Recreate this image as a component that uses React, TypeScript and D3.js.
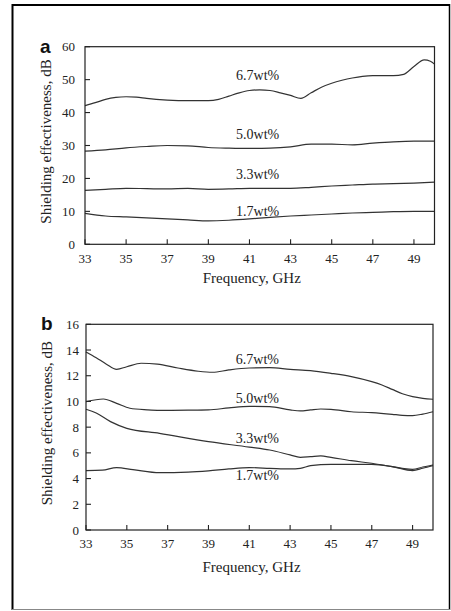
import React from "react";
import * as d3 from "d3";

// ---------- data ----------
const freqTicks = [33, 35, 37, 39, 41, 43, 45, 47, 49];
const yTicksA = [0, 10, 20, 30, 40, 50, 60];
const yTicksB = [0, 2, 4, 6, 8, 10, 12, 14, 16];

const seriesNames = ["6.7wt%", "5.0wt%", "3.3wt%", "1.7wt%"];

// panel a
const fA67 = [33, 33.5, 34, 34.5, 35, 35.5, 36, 37, 38, 39, 39.5, 40, 40.5, 41, 41.5, 42, 42.5, 43, 43.5, 44, 44.5, 45, 45.5, 46, 46.5, 47, 47.5, 48, 48.5, 49, 49.5, 49.8, 50];
const vA67 = [42.1, 43.0, 44.0, 44.6, 44.8, 44.7, 44.3, 43.8, 43.6, 43.6, 44.0, 45.0, 46.0, 46.7, 46.9, 46.7, 46.0, 45.2, 44.3, 46.0, 47.7, 48.9, 49.8, 50.5, 51.0, 51.2, 51.2, 51.2, 51.6, 54.0, 56.0, 55.6, 54.7];
const fA50 = [33, 34, 35, 36, 37, 38, 39, 40, 41, 42, 43, 44, 45, 46, 47, 48, 49, 50];
const vA50 = [28.3, 28.7, 29.3, 29.7, 30.0, 29.9, 29.4, 29.2, 29.1, 29.2, 29.6, 30.4, 30.4, 30.2, 30.7, 31.1, 31.3, 31.3];
const fA33 = [33, 34, 35, 36, 37, 38, 39, 40, 41, 42, 43, 44, 45, 46, 47, 48, 49, 50];
const vA33 = [16.4, 16.7, 17.0, 16.9, 16.8, 17.0, 16.7, 16.8, 17.0, 17.0, 17.0, 17.3, 17.7, 18.0, 18.3, 18.4, 18.6, 18.9];
const fA17 = [33, 34, 35, 36, 37, 38, 39, 40, 41, 42, 43, 44, 45, 46, 47, 48, 49, 50];
const vA17 = [9.4, 8.6, 8.3, 8.0, 7.7, 7.4, 7.1, 7.3, 7.7, 8.2, 8.6, 8.9, 9.2, 9.5, 9.7, 9.9, 10.0, 10.0];

// panel b
const fB67 = [33, 33.5, 34, 34.5, 35, 35.7, 36.5, 37.5, 38.5, 39.2, 40, 41, 42, 43, 44, 45, 46, 47, 47.5, 48, 48.5, 49, 49.5, 50];
const vB67 = [13.85, 13.4, 12.9, 12.5, 12.7, 12.97, 12.9, 12.6, 12.35, 12.27, 12.45, 12.6, 12.63, 12.5, 12.4, 12.19, 11.93, 11.54, 11.28, 10.94, 10.6, 10.37, 10.24, 10.17];
const fB50 = [33, 33.85, 34.5, 35.15, 36, 36.6, 38, 39, 40, 41, 42, 43, 43.5, 44, 44.5, 45, 46, 47, 48, 48.5, 49, 49.5, 50];
const vB50 = [9.98, 10.19, 9.85, 9.47, 9.35, 9.31, 9.32, 9.34, 9.5, 9.62, 9.6, 9.34, 9.26, 9.34, 9.41, 9.39, 9.2, 9.13, 9.0, 8.92, 8.9, 9.02, 9.2];
const fB33 = [33, 33.5, 34.2, 35, 36.6, 39, 41, 42, 43, 43.5, 44, 44.5, 45, 46, 47, 48, 48.5, 49, 49.5, 50];
const vB33 = [9.39, 9.1, 8.43, 7.91, 7.52, 6.87, 6.45, 6.22, 5.84, 5.65, 5.7, 5.76, 5.65, 5.39, 5.19, 4.93, 4.8, 4.72, 4.9, 5.06];
const fB17 = [33, 33.8, 34.5, 35.3, 36.6, 38, 39, 40, 41, 42, 43, 43.5, 44, 45, 46, 47, 48, 49, 49.5, 50];
const vB17 = [4.62, 4.65, 4.85, 4.7, 4.46, 4.5, 4.6, 4.75, 4.85, 4.8, 4.75, 4.8, 5.0, 5.11, 5.11, 5.11, 4.93, 4.62, 4.8, 5.0];

// label anchors (data coordinates: frequency, value)
const labelFreqA = [41.4, 41.4, 41.4, 41.4];
const labelValA = [49.9, 32.0, 19.7, 8.6];
const labelFreqB = [41.4, 41.4, 41.4, 41.4];
const labelValB = [12.89, 9.85, 6.79, 3.89];

const SERIF = "'Liberation Serif', 'Times New Roman', Times, serif";
const SANS = "'Liberation Sans', Arial, Helvetica, sans-serif";

type PanelProps = {
  letter: string;
  x0: number; x1: number; yTop: number; yBot: number;
  yMax: number; yTicks: number[];
  series: { f: number[]; v: number[] }[];
  labelF: number[]; labelV: number[];
  letterPos: [number, number];
  yLabelRight: number;
  xLabelBase: number;
  xTitleBase: number;
  yTitleX: number;
};

function Panel(p: PanelProps) {
  const x = d3.scaleLinear().domain([33, 50]).range([p.x0, p.x1]);
  const y = d3.scaleLinear().domain([0, p.yMax]).range([p.yBot, p.yTop]);
  const line = d3
    .line<[number, number]>()
    .x((d) => x(d[0]))
    .y((d) => y(d[1]))
    .curve(d3.curveMonotoneX);
  const tick = 5;
  const cy = (p.yTop + p.yBot) / 2;
  return (
    <g>
      <text x={p.letterPos[0]} y={p.letterPos[1]} fontFamily={SANS} fontWeight="bold" fontSize={19} fill="#111">
        {p.letter}
      </text>
      {p.series.map((s, i) => (
        <path
          key={i}
          d={line(s.f.map((f, j) => [f, s.v[j]] as [number, number])) || ""}
          fill="none"
          stroke="#333"
          strokeWidth={1.2}
        />
      ))}
      <rect x={p.x0} y={p.yTop} width={p.x1 - p.x0} height={p.yBot - p.yTop} fill="none" stroke="#222" strokeWidth={1.2} />
      {freqTicks.map((t) => (
        <g key={"x" + t}>
          <line x1={x(t)} x2={x(t)} y1={p.yBot} y2={p.yBot - tick} stroke="#222" strokeWidth={1.1} />
          <text x={x(t)} y={p.xLabelBase} textAnchor="middle" fontFamily={SERIF} fontSize={13} fill="#222">
            {t}
          </text>
        </g>
      ))}
      {p.yTicks.map((t) => (
        <g key={"y" + t}>
          <line x1={p.x0} x2={p.x0 + tick} y1={y(t)} y2={y(t)} stroke="#222" strokeWidth={1.1} />
          <text x={p.yLabelRight} y={y(t)} dy="0.35em" textAnchor="end" fontFamily={SERIF} fontSize={13} fill="#222">
            {t}
          </text>
        </g>
      ))}
      {seriesNames.map((n, i) => (
        <text key={n} x={x(p.labelF[i])} y={y(p.labelV[i])} textAnchor="middle" fontFamily={SERIF} fontSize={14} fill="#222">
          {n}
        </text>
      ))}
      <text x={(p.x0 + p.x1) / 2 - 8} y={p.xTitleBase} textAnchor="middle" fontFamily={SERIF} fontSize={15} fill="#222">
        Frequency, GHz
      </text>
      <text
        transform={`translate(${p.yTitleX},${cy - 4}) rotate(-90)`}
        textAnchor="middle"
        fontFamily={SERIF}
        fontSize={15}
        fill="#222"
      >
        Shielding effectiveness, dB
      </text>
    </g>
  );
}

export default function App() {
  return (
    <svg
      width={451}
      height={611}
      style={{ position: "absolute", left: 0, top: 0, background: "#fff" }}
    >
      <rect x={0} y={0} width={451} height={611} fill="#fff" />
      {/* outer frame */}
      <line x1={12.5} x2={12.5} y1={4} y2={610} stroke="#000" strokeWidth={2} />
      <line x1={12} x2={450} y1={5} y2={5} stroke="#000" strokeWidth={2} />
      <line x1={449.5} x2={449.5} y1={4} y2={610} stroke="#000" strokeWidth={1.5} />
      <line x1={12} x2={450} y1={609.5} y2={609.5} stroke="#888" strokeWidth={1} />
      <Panel
        letter="a"
        x0={85} x1={434.5} yTop={46.7} yBot={244.3}
        yMax={60} yTicks={yTicksA}
        series={[
          { f: fA67, v: vA67 },
          { f: fA50, v: vA50 },
          { f: fA33, v: vA33 },
          { f: fA17, v: vA17 },
        ]}
        labelF={labelFreqA} labelV={labelValA}
        letterPos={[40, 53]}
        yLabelRight={75}
        xLabelBase={263}
        xTitleBase={283}
        yTitleX={51}
      />
      <Panel
        letter="b"
        x0={86} x1={433} yTop={324.3} yBot={530}
        yMax={16} yTicks={yTicksB}
        series={[
          { f: fB67, v: vB67 },
          { f: fB50, v: vB50 },
          { f: fB33, v: vB33 },
          { f: fB17, v: vB17 },
        ]}
        labelF={labelFreqB} labelV={labelValB}
        letterPos={[41, 330]}
        yLabelRight={79}
        xLabelBase={548}
        xTitleBase={572}
        yTitleX={52}
      />
    </svg>
  );
}
